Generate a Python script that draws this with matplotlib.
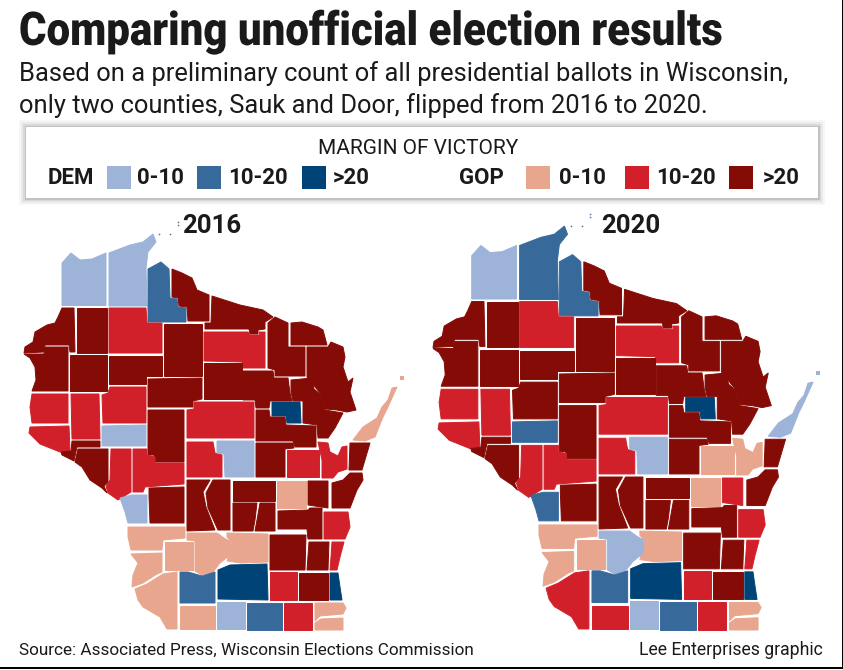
#!/usr/bin/env python3
"""Wisconsin county margins, 2016 vs 2020 (unofficial results)"""

import matplotlib
matplotlib.use("Agg")
import matplotlib.pyplot as plt
from matplotlib.patches import Polygon, Rectangle
from matplotlib.patheffects import AbstractPathEffect
from matplotlib.transforms import Affine2D

COUNTIES = [
    "Douglas", "Bayfield", "Ashland", "Iron", "Vilas", "Florence", "Forest", "Marinette",
    "Oconto", "Oneida", "Price", "Sawyer", "Washburn", "Burnett", "Polk", "Barron",
    "Rusk", "Taylor", "Lincoln", "Langlade", "Marathon", "Menominee", "Shawano", "Clark",
    "Chippewa", "Eau Claire", "Dunn", "St Croix", "Pierce", "Pepin", "Buffalo", "Trempealeau",
    "Jackson", "Monroe", "La Crosse", "Wood", "Portage", "Waupaca", "Outagamie", "Brown",
    "Kewaunee", "Door", "Manitowoc", "Calumet", "Winnebago", "Waushara", "Adams", "Juneau",
    "Marquette", "Green Lake", "Fond du Lac", "Sheboygan", "Ozaukee", "Washington", "Dodge", "Columbia",
    "Sauk", "Vernon", "Richland", "Crawford", "Grant", "Iowa", "Lafayette", "Green",
    "Dane", "Rock", "Jefferson", "Walworth", "Waukesha", "Milwaukee", "Racine", "Kenosha",
]

# margin class per county, same order as COUNTIES
RESULT_2016 = [
    "D0", "D0", "D1", "R2", "R2", "R2", "R2", "R2",
    "R2", "R1", "R2", "R1", "R2", "R2", "R2", "R2",
    "R2", "R2", "R2", "R2", "R1", "D2", "R2", "R2",
    "R1", "D0", "R1", "R1", "R1", "R2", "R2", "R1",
    "R1", "R2", "D0", "R1", "D0", "R2", "R1", "R1",
    "R2", "R0", "R2", "R2", "R0", "R2", "R2", "R2",
    "R2", "R2", "R2", "R1", "R1", "R2", "R2", "R0",
    "R0", "R0", "R0", "R0", "R0", "D1", "R0", "D0",
    "D2", "D1", "R1", "R1", "R2", "D2", "R0", "R0",
]
RESULT_2020 = [
    "D0", "D1", "D1", "R2", "R2", "R2", "R2", "R2",
    "R2", "R1", "R2", "R1", "R2", "R2", "R2", "R2",
    "R2", "R2", "R2", "R2", "R1", "D2", "R2", "R2",
    "R2", "D1", "R1", "R1", "R1", "R2", "R2", "R1",
    "R1", "R2", "D1", "R1", "D0", "R2", "R0", "R0",
    "R2", "D0", "R2", "R1", "R0", "R2", "R2", "R2",
    "R2", "R2", "R2", "R1", "R1", "R2", "R2", "R0",
    "D0", "R0", "R0", "R0", "R1", "D1", "R1", "D0",
    "D2", "D1", "R1", "R1", "R2", "D2", "R0", "R0",
]

# county outlines
OUTLINES = {
    "Douglas": [(62,263),(71,253),(80,260),(92,259),(106,253),(106,305.5),(62,305.5)],
    "Bayfield": [(109,253),(130,245),(143,242),(153,234),(156,242),(148,252),(146,268),(147,306),(109,306)],
    "Ashland": [(148,269),(161,262),(169,269),(170,298),(177,299),(178,307),(186,308),(186,322),(148,322)],
    "Iron": [(172,269),(182,273),(192,278),(197,290),(209,295),(209,321),(188,321),(187,307),(179,306),(178,298),(172,297)],
    "Vilas": [(212,296),(240,305),(263,310),(273,317),(265,322),(265,329),(258,330),(258,334),(250,334),(249,329),(205,329),(205,323),(211,323)],
    "Florence": [(291,323),(302,322),(318,327),(323,330),(327,345),(291,345)],
    "Forest": [(268,323),(275,317),(288,323),(288,347),(305,347),(305,376),(275,376),(275,370),(268,368)],
    "Marinette": [(307,347),(328,347),(331,342),(343,347),(345,357),(343,367),(348,382),(353,378),(350,392),(356,410),(347,412),(337,410),(325,409),(320,393),(307,377)],
    "Oconto": [(291,380),(312,378),(314,389),(320,394),(325,410),(343,413),(335,428),(328,438),(318,438),(317,425),(303,423),(303,401),(293,401),(291,392)],
    "Oneida": [(204,332),(248,332),(250,335),(260,335),(259,332),(265,332),(265,368),(243,368),(242,362),(204,361)],
    "Price": [(164,324),(202,324),(202,376),(164,376)],
    "Sawyer": [(109,308),(146,308),(147,323),(162,323),(162,353),(109,353)],
    "Washburn": [(77,308),(107,308),(107,353),(77,353)],
    "Burnett": [(62,308),(74,308),(75,352),(70,352),(69,345),(45,345),(44,352),(24,353),(25,347),(33,342),(35,332),(47,325),(55,323),(58,317)],
    "Polk": [(45,347),(68,347),(68,391),(32,391),(36,380),(35,367),(30,358),(24,354),(44,354)],
    "Barron": [(70,355),(107,355),(107,391),(70,391)],
    "Rusk": [(109,356),(162,356),(162,376),(146,376),(146,384),(109,384)],
    "Taylor": [(148,379),(202,378),(202,399),(193,401),(193,407),(148,407)],
    "Lincoln": [(204,363),(242,363),(242,399),(204,399)],
    "Langlade": [(243,371),(273,371),(274,378),(288,378),(290,393),(292,401),(270,401),(269,408),(256,408),(255,400),(243,400)],
    "Marathon": [(194,402),(254,402),(254,438),(187,438),(187,410),(194,409)],
    "Menominee": [(272,402),(300,402),(301,423),(287,423),(286,416),(272,416)],
    "Shawano": [(256,410),(269,410),(270,417),(285,417),(286,425),(316,426),(316,447),(295,447),(293,441),(256,441)],
    "Clark": [(148,410),(184,410),(184,462),(155,462),(154,455),(148,455)],
    "Chippewa": [(110,387),(146,387),(146,423),(103,423),(102,395),(108,393)],
    "Eau Claire": [(102,426),(146,425),(146,446),(102,446)],
    "Dunn": [(71,394),(99,394),(100,439),(72,439)],
    "St Croix": [(32,394),(68,394),(68,423),(32,423),(30,407)],
    "Pierce": [(30,427),(69,426),(70,451),(60,452),(40,444),(29,433)],
    "Pepin": [(72,441),(100,441),(100,447),(77,447),(74,461),(62,455),(61,452),(71,451)],
    "Buffalo": [(78,449),(108,449),(108,482),(104,486),(107,493),(102,488),(90,480),(82,467),(75,462)],
    "Trempealeau": [(111,449),(131,449),(131,492),(118,500),(108,493),(106,486),(110,480)],
    "Jackson": [(133,449),(147,449),(147,455),(155,457),(155,463),(184,463),(184,484),(145,487),(143,492),(133,492)],
    "Monroe": [(149,488),(184,487),(184,523),(150,523),(149,496)],
    "La Crosse": [(120,498),(132,495),(147,495),(147,523),(128,523),(125,512)],
    "Wood": [(187,442),(213,442),(215,453),(222,455),(222,477),(187,477)],
    "Portage": [(217,441),(254,441),(254,477),(225,477),(224,454),(217,453)],
    "Waupaca": [(256,443),(293,443),(294,448),(285,449),(285,477),(256,477)],
    "Outagamie": [(287,450),(319,450),(319,477),(287,477)],
    "Brown": [(318,442),(328,443),(330,452),(338,456),(342,447),(347,446),(347,469),(338,472),(333,478),(322,478),(322,460)],
    "Kewaunee": [(350,443),(370,443),(362,470),(349,470)],
    "Door": [(353,440),(363,427),(377,418),(382,407),(388,400),(392,388),(397,387),(388,407),(383,417),(375,437),(365,441)],
    "Manitowoc": [(350,473),(362,473),(363,480),(357,490),(350,508),(332,508),(332,483),(343,480)],
    "Calumet": [(308,481),(328,481),(328,508),(308,505)],
    "Winnebago": [(277,481),(306,481),(306,508),(277,508)],
    "Waushara": [(233,481),(275,481),(275,501),(233,501)],
    "Adams": [(213,480),(230,480),(230,530),(218,530),(208,508),(206,493)],
    "Juneau": [(187,480),(210,480),(203,492),(206,507),(215,530),(187,531)],
    "Marquette": [(233,503),(257,503),(255,520),(253,531),(233,531)],
    "Green Lake": [(260,503),(275,503),(275,531),(255,531),(257,520)],
    "Fond du Lac": [(278,511),(308,510),(310,508),(322,508),(322,539),(308,539),(307,529),(278,529)],
    "Sheboygan": [(324,512),(348,512),(350,527),(345,539),(324,539)],
    "Ozaukee": [(332,542),(344,542),(340,557),(337,570),(330,570),(331,557)],
    "Washington": [(309,542),(329,542),(328,570),(307,570)],
    "Dodge": [(270,535),(306,535),(305,570),(270,570)],
    "Columbia": [(227,533),(268,534),(268,562),(241,563),(227,561),(232,543),(227,537)],
    "Sauk": [(187,533),(217,533),(224,538),(231,542),(230,555),(220,563),(213,572),(202,575),(195,571),(195,541),(187,540)],
    "Vernon": [(128,527),(185,527),(185,538),(163,540),(162,550),(131,550),(128,537)],
    "Richland": [(165,542),(193,542),(193,570),(165,570)],
    "Crawford": [(131,554),(162,553),(162,572),(157,574),(143,583),(132,587),(133,575),(138,563)],
    "Grant": [(135,589),(147,584),(163,574),(177,572),(177,629),(167,629),(160,617),(143,607),(138,600)],
    "Iowa": [(180,572),(188,572),(202,576),(215,572),(215,603),(180,603)],
    "Lafayette": [(180,606),(215,606),(215,629),(180,629)],
    "Green": [(217,602),(245,602),(245,629),(217,629)],
    "Dane": [(218,570),(230,565),(267,564),(268,600),(218,599)],
    "Rock": [(247,603),(282,603),(282,630),(247,630)],
    "Jefferson": [(270,572),(297,572),(297,600),(270,600)],
    "Walworth": [(284,603),(312,603),(312,630),(284,630)],
    "Waukesha": [(299,573),(328,573),(328,600),(299,600)],
    "Milwaukee": [(330,573),(338,573),(340,587),(342,600),(330,600)],
    "Racine": [(315,603),(343,603),(346,608),(343,614),(320,616),(315,621)],
    "Kenosha": [(321,619),(343,618),(343,630),(315,630),(315,623)],
}
WASHINGTON_ISLAND = [(400,376),(404,376),(404,380),(400,380)]
APOSTLE_ISLANDS = [(159,234),(170,234),(178,225),(178,222)]

COLORS = {"D0": "#9db4d8", "D1": "#376a9b", "D2": "#004477",
          "R0": "#e8a68f", "R1": "#d1202a", "R2": "#850b06"}

LEGEND_CLASSES = ["D0", "D1", "D2", "R0", "R1", "R2"]
LEGEND_LABELS = ["0-10", "10-20", ">20", "0-10", "10-20", ">20"]
LEGEND_SWATCH_X = [107, 197, 302, 526, 625, 729]
LEGEND_LABEL_X = [137, 228, 333, 559, 656, 763]

TITLE = "Comparing unofficial election results"
SUBTITLE = ["Based on a preliminary count of all presidential ballots in Wisconsin,",
            "only two counties, Sauk and Door, flipped from 2016 to 2020."]
INK = "#1a1a1a"
BODY = ["Roboto", "DejaVu Sans"]


class Squeeze(AbstractPathEffect):
    """Narrow a text horizontally about x0 (no condensed font is installed)"""
    def __init__(self, sx, x0):
        self.squeeze = Affine2D().translate(-x0, 0).scale(sx, 1).translate(x0, 0)

    def draw_path(self, renderer, gc, tpath, affine, rgbFace=None):
        renderer.draw_path(gc, tpath, affine + self.squeeze, rgbFace)


def draw_map(ax, results, transform):
    for name, result in zip(COUNTIES, results):
        ax.add_patch(Polygon(OUTLINES[name], closed=True, facecolor=COLORS[result],
                             edgecolor=COLORS[result], linewidth=0.7, joinstyle="miter",
                             transform=transform + ax.transData))
    door = results[COUNTIES.index("Door")]
    ax.add_patch(Polygon(WASHINGTON_ISLAND, closed=True, facecolor=COLORS[door],
                         edgecolor="none", transform=transform + ax.transData))
    xs = [p[0] for p in APOSTLE_ISLANDS]
    ys = [p[1] for p in APOSTLE_ISLANDS]
    ax.scatter(xs, ys, s=1.5, color="#5a7a9c", linewidths=0,
               transform=transform + ax.transData)


fig = plt.figure(figsize=(8.43, 6.70), dpi=100)
ax = fig.add_axes([0, 0, 1, 1])
ax.set_xlim(0, 843)
ax.set_ylim(670, 0)
ax.axis("off")

ax.text(19, 32, TITLE, family=BODY, fontweight="black", fontsize=33.5, color=INK, ha="left", va="center",
        path_effects=[Squeeze(0.902, 19)])
ax.text(19, 74, SUBTITLE[0], family=BODY, fontsize=18.4, color=INK, ha="left", va="center")
ax.text(19, 106, SUBTITLE[1], family=BODY, fontsize=18.4, color=INK, ha="left", va="center")

# legend box with a soft shadow
for grow, alpha in [(7, 0.03), (5, 0.05), (3, 0.07), (1.5, 0.1)]:
    ax.add_patch(Rectangle((26 - grow, 127 - grow), 792 + 2 * grow, 71 + 2 * grow,
                           facecolor="black", edgecolor="none", alpha=alpha))
ax.add_patch(Rectangle((26, 127), 792, 71, facecolor="white", edgecolor="none"))
ax.text(418, 149, "MARGIN OF VICTORY", family=BODY, fontsize=15, color=INK, ha="center", va="center")
ax.text(48, 178, "DEM", family=BODY, fontweight="bold", fontsize=16, color=INK, ha="left", va="center")
ax.text(459, 178, "GOP", family=BODY, fontweight="bold", fontsize=16, color=INK, ha="left", va="center")
for cls, label, sx, lx in zip(LEGEND_CLASSES, LEGEND_LABELS, LEGEND_SWATCH_X, LEGEND_LABEL_X):
    ax.add_patch(Rectangle((sx, 166), 24, 23, facecolor=COLORS[cls], edgecolor="none"))
    ax.text(lx, 178, label, family=BODY, fontweight="bold", fontsize=16, color=INK, ha="left", va="center")

draw_map(ax, RESULT_2016, Affine2D())
draw_map(ax, RESULT_2020, Affine2D().translate(-24, -630).scale(1.019, 1.02).translate(433, 630))

ax.text(212, 226, "2016", family=BODY, fontweight="bold", fontsize=18.5, color=INK, ha="center", va="center")
ax.text(631, 226, "2020", family=BODY, fontweight="bold", fontsize=18.5, color=INK, ha="center", va="center")

ax.text(19, 650, "Source: Associated Press, Wisconsin Elections Commission", family=BODY,
        fontsize=12.35, color=INK, ha="left", va="center")
ax.text(823, 650, "Lee Enterprises graphic", family=BODY, fontsize=12.7, color=INK, ha="right", va="center")

# page rule along the bottom and right edge
ax.add_patch(Rectangle((0, 666.5), 843, 2, facecolor="black", edgecolor="none"))
ax.add_patch(Rectangle((841.7, 0), 1.3, 668, facecolor="black", edgecolor="none"))

fig.savefig("out.png", dpi=100)
